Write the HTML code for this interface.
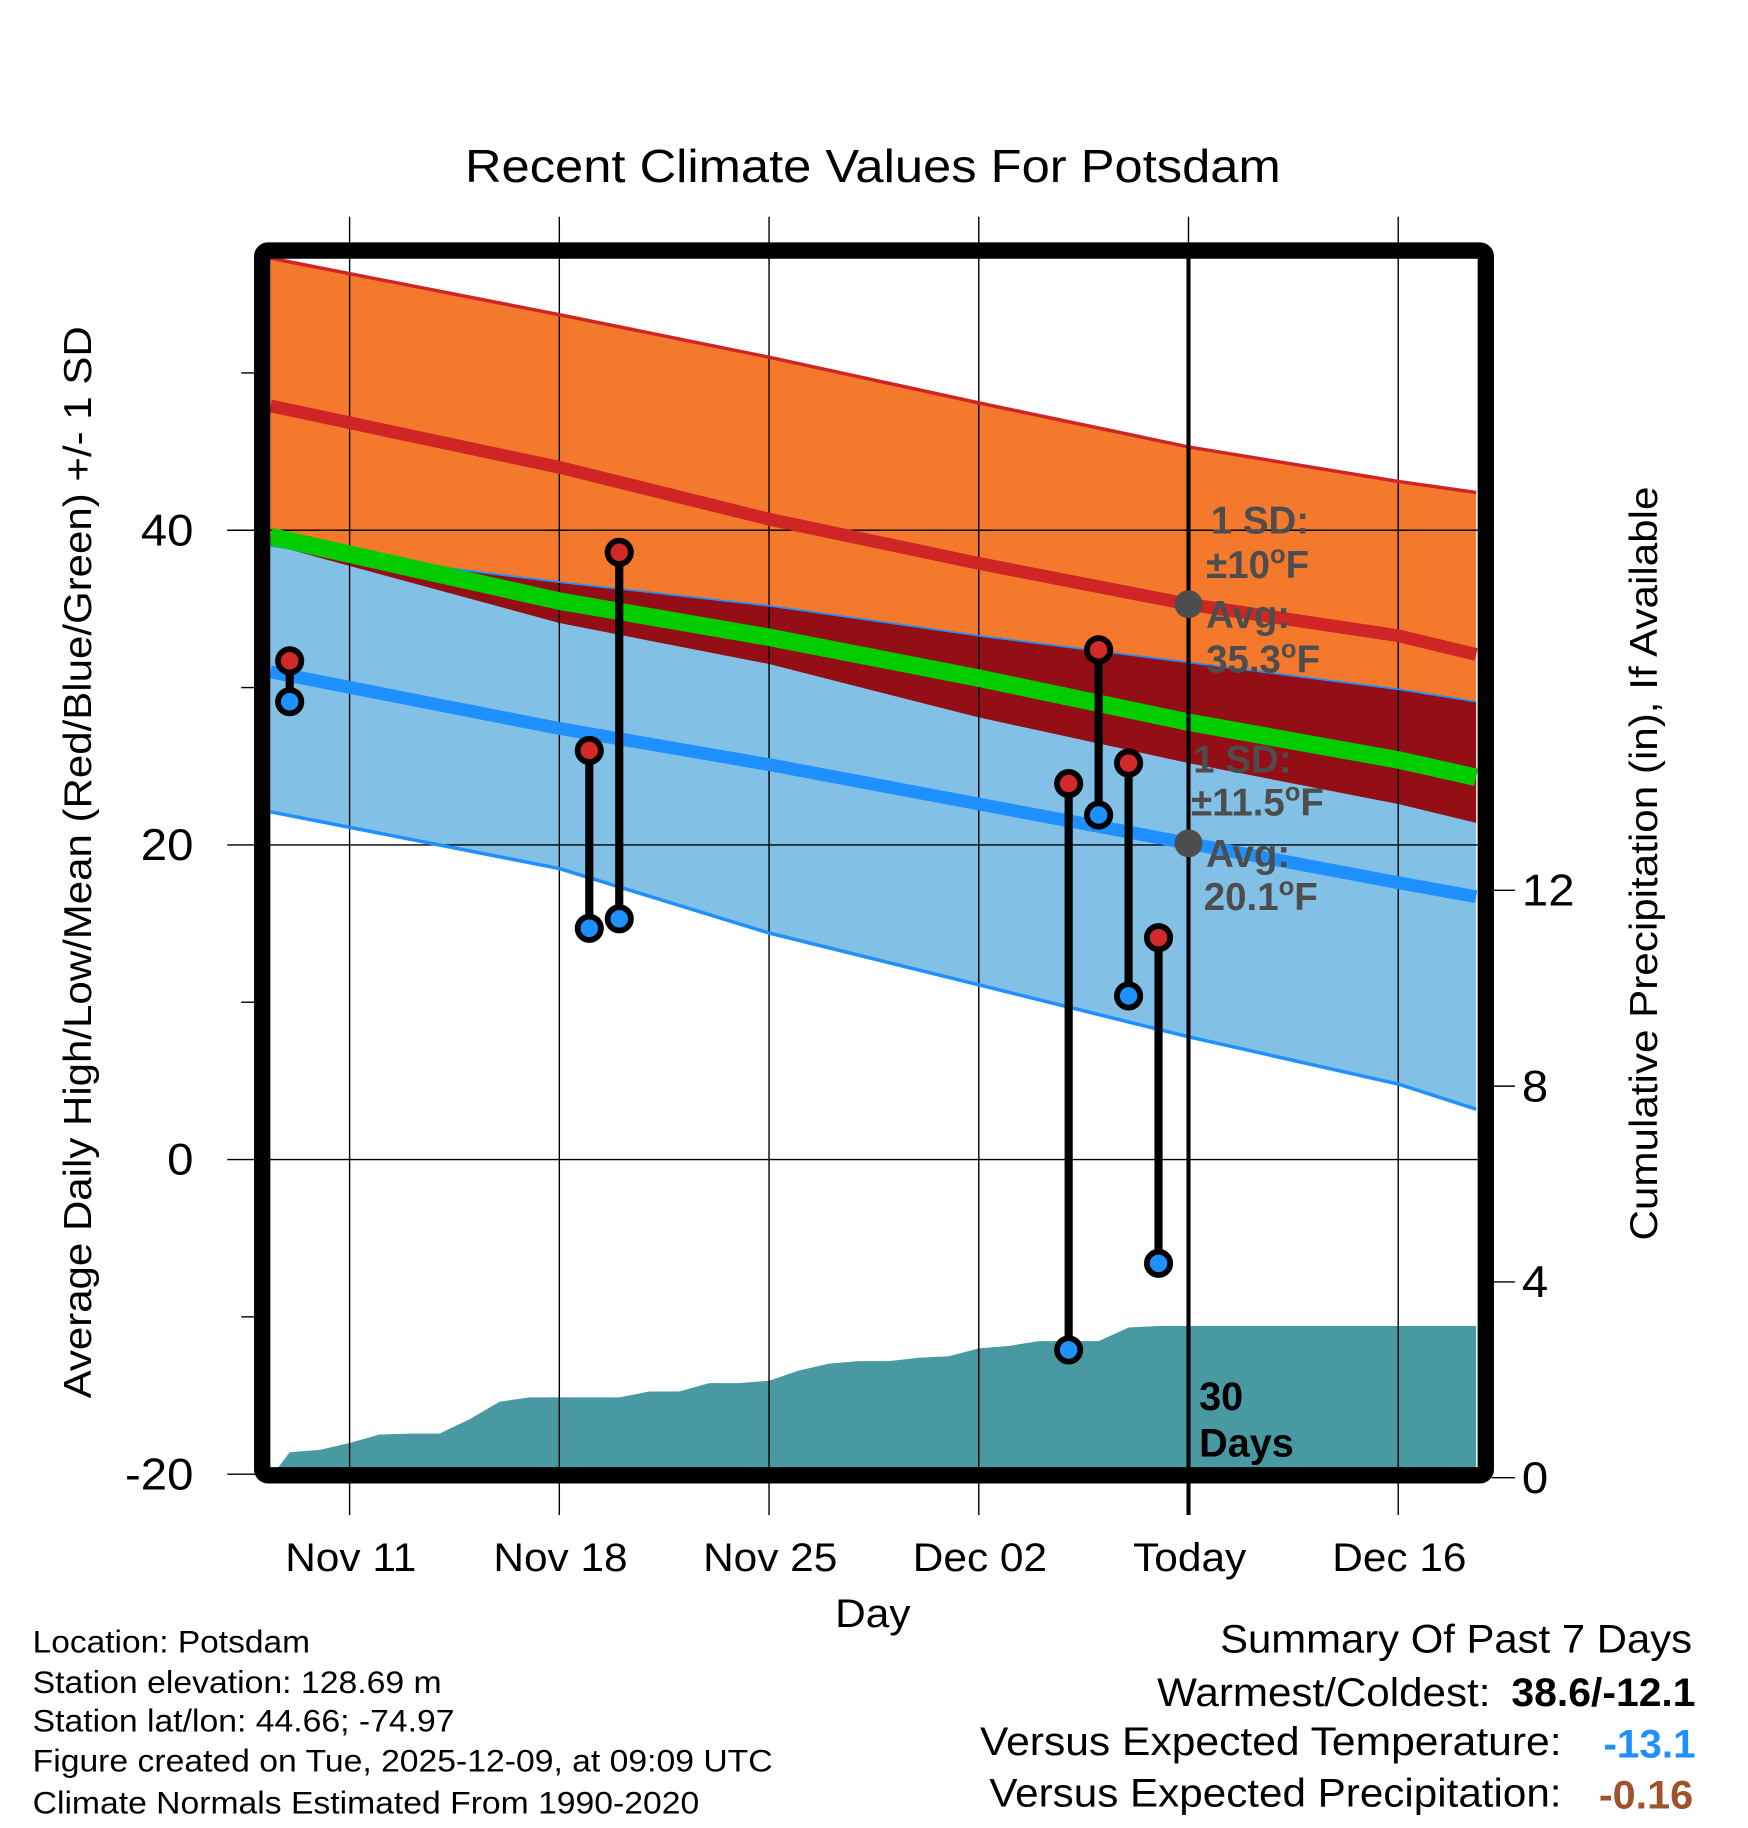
<!DOCTYPE html>
<html><head><meta charset="utf-8"><style>
html,body{margin:0;padding:0;background:#fff}
svg{display:block;font-family:"Liberation Sans",Arial,sans-serif}
</style></head><body>
<svg id="chart" width="1748" height="1828" viewBox="0 0 1500 1568.6" xmlns="http://www.w3.org/2000/svg">
<g id="bands"></g>
<g id="grid"></g>
<g id="lines"></g>
<g id="obs"></g>
<g id="labels"></g>
</svg>
<script>
// ---- data (day index: Nov 11 = 0, Today = Dec 09 = 28) ----
const normDays      = [-2.64, 7, 14, 21, 28, 35, 37.6];
const highUpper     = [57.3, 53.7, 51.0, 48.1, 45.3, 43.1, 42.4];
const highMean      = [47.9, 44.0, 40.7, 37.9, 35.3, 33.3, 32.1];
const highLower     = [39.1, 34.1, 31.5, 28.1, 25.2, 22.6, 21.4];
const lowUpper      = [39.0, 36.7, 35.2, 33.3, 31.6, 29.9, 29.1];
const lowMean       = [31.0, 27.4, 25.1, 22.6, 20.1, 17.6, 16.7];
const lowLower      = [22.1, 18.5, 14.4, 11.1, 7.8, 4.8, 3.2];
const meanTemp      = [39.6, 35.5, 33.2, 30.6, 27.8, 25.4, 24.3];
const precipDays    = [-2.64,-2,-1,0,1,2,3,4,5,6,7,8,9,10,11,12,13,14,15,16,17,18,19,20,21,22,23,24,25,26,27,37.6];
const precipValues  = [0,0.52,0.57,0.71,0.88,0.9,0.9,1.19,1.55,1.64,1.64,1.64,1.64,1.76,1.76,1.93,1.93,1.98,2.19,2.33,2.38,2.38,2.45,2.48,2.64,2.69,2.79,2.79,2.79,3.07,3.1,3.1];
const obsDays       = [-2, 8, 9, 24, 25, 26, 27];
const obsHigh       = [31.7, 26.0, 38.6, 23.9, 32.4, 25.2, 14.1];
const obsLow        = [29.1, 14.7, 15.3, -12.1, 21.9, 10.4, -6.6];
const xTickDays     = [0, 7, 14, 21, 28, 35];
const xTickLabels   = ["Nov 11","Nov 18","Nov 25","Dec 02","Today","Dec 16"];
const yTicks        = [40, 20, 0, -20];
const yMinorTicks   = [50, 30, 10, -10];
const pTicks        = [0, 4, 8, 12];

// ---- axes ----
const X0=232, X1=1268, Y0=222, Y1=1260;
const xs = d => 300 + d*25.71;
const ys = t => 1265 - (t+20)*13.5;
const yp = p => 1268 - p*42;
const NS="http://www.w3.org/2000/svg";
function mk(parent, tag, attrs, text){
  const el=document.createElementNS(NS,tag);
  for(const k in attrs) el.setAttribute(k,attrs[k]);
  if(text!==undefined) el.textContent=text;
  document.getElementById(parent).appendChild(el);
  return el;
}
const pts = (ds, vs, f) => ds.map((d,i)=>xs(d).toFixed(1)+","+f(vs[i]).toFixed(1));
function band(top, bot){ return pts(normDays,top,ys).concat(pts(normDays,bot,ys).reverse()).join(" "); }

let e;
e=mk("bands","polygon",{points:band(highUpper,highLower),fill:"#f4792d"});


e=mk("bands","polygon",{points:band(lowUpper,lowLower),fill:"#82c0e6"});


e=mk("bands","polygon",{points:band(lowUpper,highLower),fill:"#930e15"});


const pp = pts(precipDays,precipValues,yp);
e=mk("bands","polygon",{points:pp.join(" ")+" "+xs(37.6)+","+Y1+" "+X0+","+Y1,fill:"#4899a1"});



xTickDays.forEach((d,i)=>{
  e=mk("grid","line",{x1:xs(d),x2:xs(d),y1:186,y2:1300,stroke:"#000","stroke-width":1.2});
  
  
  e=mk("labels","text",{x:xs(d)+1,y:1348,"font-size":34,"text-anchor":"middle","class":"st"},xTickLabels[i]);
  
  
});
yTicks.forEach(t=>{
  e=mk("grid","line",{x1:195,x2:X1,y1:ys(t),y2:ys(t),stroke:"#000","stroke-width":1.2});
  
  
  e=mk("labels","text",{x:166,y:ys(t)+13,"font-size":38,"text-anchor":"end","class":"st"},String(t));
  
  
});
yMinorTicks.forEach(t=>{
  e=mk("grid","line",{x1:207,x2:220,y1:ys(t),y2:ys(t),stroke:"#000","stroke-width":1.2});
  
  
});
pTicks.forEach(p=>{
  e=mk("grid","line",{x1:1280,x2:1300,y1:yp(p),y2:yp(p),stroke:"#000","stroke-width":1.2});
  
  
  e=mk("labels","text",{x:1306,y:yp(p)+13,"font-size":38,"class":"st"},String(p));
  
  
});

function pl(vals,color,w,name){
  e=mk("lines","polyline",{points:pts(normDays,vals,ys).join(" "),fill:"none",stroke:color,"stroke-width":w,"stroke-linejoin":"round"});
  
  
}
pl(highUpper,"#d02525",3,"high-upper-line");
pl(lowUpper,"#1e90ff",1.5,"low-upper-line");
pl(lowLower,"#1e90ff",3,"low-lower-line");
pl(meanTemp,"#00cc00",15,"mean-temp-line");
pl(highMean,"#d02525",11,"avg-high-line");
pl(lowMean,"#1e90ff",11,"avg-low-line");
e=mk("lines","line",{x1:xs(28),x2:xs(28),y1:Y0-10,y2:1300,stroke:"#000","stroke-width":3.5});



obsDays.forEach((d,i)=>{
  e=mk("obs","line",{x1:xs(d),x2:xs(d),y1:ys(obsHigh[i]),y2:ys(obsLow[i]),stroke:"#000","stroke-width":7});
  
  
  e=mk("obs","circle",{cx:xs(d),cy:ys(obsHigh[i]),r:10,fill:"#d22a2a",stroke:"#000","stroke-width":5});
  
  
  e=mk("obs","circle",{cx:xs(d),cy:ys(obsLow[i]),r:10,fill:"#1e90ff",stroke:"#000","stroke-width":5});
  
  
});

e=mk("obs","rect",{x:225,y:215,width:1050,height:1051,rx:5,fill:"none",stroke:"#000","stroke-width":14});



e=mk("obs","circle",{cx:xs(28),cy:ys(highMean[4]),r:12,fill:"#4d4d4d"});


e=mk("obs","circle",{cx:xs(28),cy:ys(lowMean[4]),r:12,fill:"#4d4d4d"});


</script>
<script>
(function(){
const L=document.getElementById("labels");
L.insertAdjacentHTML("beforeend",`
<g font-weight="bold" font-size="33" fill="#4d4d4d">
<text x="1039" y="458">1 SD:</text>
<text x="1035" y="496">±10<tspan font-size="22" dy="-13">o</tspan><tspan dy="13">F</tspan></text>
<text x="1035" y="539">Avg:</text>
<text x="1035" y="577">35.3<tspan font-size="22" dy="-13">o</tspan><tspan dy="13">F</tspan></text>
</g>
<g font-weight="bold" font-size="33" fill="#4d4d4d">
<text x="1024" y="663">1 SD:</text>
<text x="1022" y="700">±11.5<tspan font-size="22" dy="-13">o</tspan><tspan dy="13">F</tspan></text>
<text x="1035" y="744">Avg:</text>
<text x="1033" y="781">20.1<tspan font-size="22" dy="-13">o</tspan><tspan dy="13">F</tspan></text>
</g>
<g font-weight="bold" font-size="34" fill="#000">
<text x="1029" y="1210">30</text><text x="1029" y="1250">Days</text>
</g>
<text x="749" y="156" font-size="40" text-anchor="middle" textLength="700" lengthAdjust="spacingAndGlyphs">Recent Climate Values For Potsdam</text>
<text x="749" y="1396" font-size="34" text-anchor="middle" class="st">Day</text>
<text transform="translate(78,740) rotate(-90)" font-size="33" text-anchor="middle" textLength="920" lengthAdjust="spacingAndGlyphs">Average Daily High/Low/Mean (Red/Blue/Green) +/- 1 SD</text>
<text transform="translate(1422,741) rotate(-90)" font-size="33" text-anchor="middle" textLength="647" lengthAdjust="spacingAndGlyphs">Cumulative Precipitation (in), If Available</text>
<g font-size="27">
<text x="28" y="1418" textLength="238" lengthAdjust="spacingAndGlyphs">Location: Potsdam</text>
<text x="28" y="1453" textLength="351" lengthAdjust="spacingAndGlyphs">Station elevation: 128.69 m</text>
<text x="28" y="1486" textLength="362" lengthAdjust="spacingAndGlyphs">Station lat/lon: 44.66; -74.97</text>
<text x="28" y="1520" textLength="635" lengthAdjust="spacingAndGlyphs">Figure created on Tue, 2025-12-09, at 09:09 UTC</text>
<text x="28" y="1556" textLength="572" lengthAdjust="spacingAndGlyphs">Climate Normals Estimated From 1990-2020</text>
</g>
<g font-size="34">
<text x="1452" y="1418" text-anchor="end" textLength="405" lengthAdjust="spacingAndGlyphs">Summary Of Past 7 Days</text>
<text x="1279" y="1464" text-anchor="end" textLength="286" lengthAdjust="spacingAndGlyphs">Warmest/Coldest:</text>
<text x="1455" y="1464" text-anchor="end" font-weight="bold" textLength="158" lengthAdjust="spacingAndGlyphs">38.6/-12.1</text>
<text x="1340" y="1506" text-anchor="end" textLength="499" lengthAdjust="spacingAndGlyphs">Versus Expected Temperature:</text>
<text x="1455" y="1508" text-anchor="end" font-weight="bold" fill="#1e90ff" textLength="79" lengthAdjust="spacingAndGlyphs">-13.1</text>
<text x="1340" y="1550" text-anchor="end" textLength="491" lengthAdjust="spacingAndGlyphs">Versus Expected Precipitation:</text>
<text x="1453" y="1552" text-anchor="end" font-weight="bold" fill="#a0522d" textLength="81" lengthAdjust="spacingAndGlyphs">-0.16</text>
</g>`);
document.querySelectorAll("text.st").forEach(t=>{
  const w=t.getComputedTextLength();
  t.setAttribute("textLength",(w*1.07).toFixed(1));
  t.setAttribute("lengthAdjust","spacingAndGlyphs");
});
})();
</script>
</body></html>
